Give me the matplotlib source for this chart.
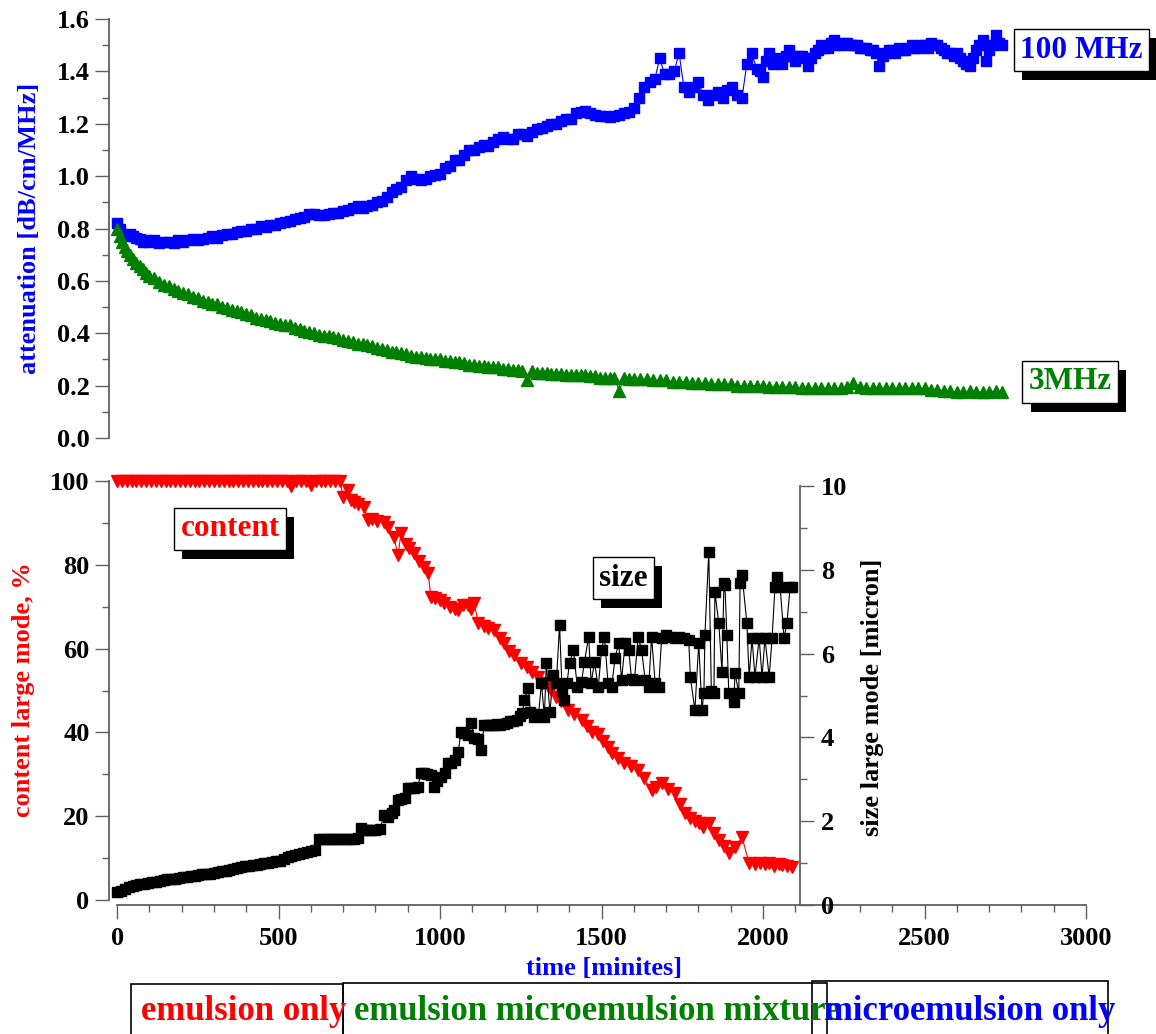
import numpy as np
import matplotlib.pyplot as plt
import matplotlib.patheffects as pe
from matplotlib.patches import Rectangle
from matplotlib.ticker import MultipleLocator, FormatStrFormatter

plt.rcParams['font.family'] = ['Liberation Serif', 'DejaVu Serif']
plt.rcParams['font.weight'] = 'bold'

# --- top panel: shared time grid of the first part of the run
t_top_a = [0, 8, 16, 24, 32, 40, 50, 60, 70, 80,
           90, 100, 115, 130, 145, 160, 175, 190, 205, 220,
           235, 250, 265, 280, 295, 310, 325, 340, 355, 370,
           385, 400, 415, 430, 445, 460, 475, 490, 505, 520,
           535, 550, 565, 580, 595, 610, 625, 640, 655, 670,
           685, 700, 715, 730, 745, 760, 775, 790, 805, 820,
           835, 850, 865, 880, 895, 910, 925, 940, 955, 970,
           985, 1000, 1015, 1030, 1045, 1060, 1075, 1090, 1105, 1120,
           1135, 1150, 1165, 1180, 1195, 1210, 1225, 1240, 1255, 1270,
           1285, 1300, 1315, 1330, 1345, 1360, 1375, 1390, 1405, 1420,
           1435, 1450, 1465, 1480, 1495, 1510, 1525, 1540, 1555, 1570,
           1585, 1600]

# attenuation at 100 MHz (blue squares)
att_100_a = [0.82, 0.80, 0.78, 0.77, 0.775, 0.78, 0.77, 0.765, 0.76, 0.75,
             0.755, 0.75, 0.755, 0.745, 0.75, 0.75, 0.745, 0.755, 0.75, 0.755,
             0.76, 0.755, 0.76, 0.765, 0.77, 0.765, 0.775, 0.78, 0.78, 0.785,
             0.79, 0.79, 0.80, 0.80, 0.81, 0.805, 0.815, 0.815, 0.82, 0.825,
             0.83, 0.835, 0.84, 0.845, 0.855, 0.855, 0.85, 0.85, 0.855, 0.86,
             0.86, 0.865, 0.87, 0.88, 0.885, 0.88, 0.885, 0.89, 0.90, 0.905,
             0.92, 0.94, 0.95, 0.96, 0.985, 1.0, 0.99, 0.985, 0.99, 1.0,
             1.005, 1.01, 1.03, 1.04, 1.06, 1.06, 1.08, 1.10, 1.10, 1.11,
             1.12, 1.115, 1.13, 1.14, 1.15, 1.14, 1.14, 1.16, 1.16, 1.155,
             1.17, 1.18, 1.185, 1.19, 1.20, 1.20, 1.21, 1.22, 1.22, 1.24,
             1.245, 1.25, 1.24, 1.235, 1.23, 1.23, 1.225, 1.23, 1.235, 1.24,
             1.245, 1.26]
t_100_b = [1615, 1630, 1650, 1665, 1680, 1695, 1710, 1725, 1740, 1755,
           1770, 1785, 1800, 1815, 1830, 1845, 1860, 1875, 1890, 1905,
           1920, 1935, 1950, 1965, 1980, 1990, 2000, 2010, 2020, 2030,
           2040, 2050, 2060, 2070, 2080, 2090, 2100, 2110, 2120, 2130,
           2140, 2150, 2160, 2170, 2180, 2190, 2200, 2210, 2220, 2230,
           2240, 2250, 2260, 2270, 2280, 2290, 2300, 2310, 2320, 2330,
           2340, 2350, 2360, 2370, 2380, 2390, 2400, 2410, 2420, 2430,
           2440, 2450, 2460, 2470, 2480, 2490, 2500, 2510, 2520, 2530,
           2540, 2550, 2560, 2570, 2580, 2590, 2600, 2610, 2620, 2630,
           2640, 2650, 2660, 2670, 2680, 2690, 2700, 2710, 2720, 2730,
           2740]
att_100_b = [1.30, 1.34, 1.36, 1.37, 1.45, 1.39, 1.39, 1.40, 1.47, 1.34,
             1.32, 1.34, 1.36, 1.31, 1.29, 1.31, 1.32, 1.30, 1.33, 1.34,
             1.31, 1.30, 1.43, 1.47, 1.41, 1.40, 1.38, 1.44, 1.47, 1.43,
             1.45, 1.44, 1.43, 1.46, 1.48, 1.46, 1.44, 1.46, 1.46, 1.45,
             1.42, 1.45, 1.47, 1.48, 1.50, 1.49, 1.49, 1.51, 1.52, 1.50,
             1.50, 1.51, 1.51, 1.50, 1.50, 1.50, 1.49, 1.49, 1.49, 1.48,
             1.48, 1.47, 1.42, 1.46, 1.47, 1.48, 1.48, 1.47, 1.49, 1.48,
             1.48, 1.49, 1.50, 1.49, 1.49, 1.50, 1.50, 1.49, 1.51, 1.50,
             1.50, 1.49, 1.48, 1.47, 1.47, 1.46, 1.47, 1.45, 1.44, 1.43,
             1.42, 1.45, 1.48, 1.50, 1.52, 1.44, 1.48, 1.50, 1.54, 1.51,
             1.50]

# attenuation at 3 MHz (green triangles)
att_3_a = [0.80, 0.77, 0.75, 0.73, 0.715, 0.70, 0.685, 0.67, 0.655, 0.645,
           0.63, 0.62, 0.61, 0.595, 0.585, 0.58, 0.57, 0.56, 0.555, 0.55,
           0.54, 0.535, 0.525, 0.52, 0.51, 0.51, 0.50, 0.495, 0.49, 0.485,
           0.48, 0.475, 0.47, 0.46, 0.455, 0.45, 0.445, 0.44, 0.435, 0.43,
           0.43, 0.42, 0.415, 0.41, 0.405, 0.40, 0.395, 0.39, 0.39, 0.385,
           0.38, 0.375, 0.37, 0.365, 0.36, 0.36, 0.355, 0.35, 0.345, 0.34,
           0.335, 0.33, 0.33, 0.325, 0.32, 0.315, 0.31, 0.31, 0.305, 0.30,
           0.30, 0.30, 0.295, 0.295, 0.29, 0.29, 0.285, 0.28, 0.28, 0.275,
           0.275, 0.27, 0.27, 0.27, 0.265, 0.265, 0.26, 0.26, 0.255, 0.22,
           0.255, 0.25, 0.25, 0.25, 0.245, 0.245, 0.245, 0.24, 0.24, 0.24,
           0.24, 0.24, 0.235, 0.235, 0.23, 0.23, 0.23, 0.23, 0.18, 0.23,
           0.225, 0.225]
t_3_b = [1620, 1640, 1660, 1680, 1700, 1720, 1740, 1760, 1780, 1800,
         1820, 1840, 1860, 1880, 1900, 1920, 1940, 1960, 1980, 2000,
         2020, 2040, 2060, 2080, 2100, 2120, 2140, 2160, 2180, 2200,
         2220, 2240, 2260, 2280, 2300, 2320, 2340, 2360, 2380, 2400,
         2420, 2440, 2460, 2480, 2500, 2520, 2540, 2560, 2580, 2600,
         2620, 2640, 2660, 2680, 2700, 2720, 2740]
att_3_b = [0.225, 0.225, 0.22, 0.22, 0.22, 0.215, 0.215, 0.215, 0.21, 0.21,
           0.21, 0.205, 0.205, 0.205, 0.205, 0.20, 0.20, 0.20, 0.20, 0.20,
           0.195, 0.195, 0.195, 0.195, 0.195, 0.19, 0.19, 0.19, 0.19, 0.19,
           0.19, 0.19, 0.195, 0.21, 0.195, 0.19, 0.19, 0.19, 0.19, 0.19,
           0.19, 0.19, 0.19, 0.19, 0.19, 0.185, 0.185, 0.18, 0.18, 0.175,
           0.175, 0.18, 0.175, 0.175, 0.175, 0.18, 0.175]

# --- bottom panel: content of large mode, % (red down-triangles)
t_content = [0, 15, 30, 45, 60, 75, 90, 105, 120, 135,
             150, 165, 180, 195, 210, 225, 240, 255, 270, 285,
             300, 315, 330, 345, 360, 375, 390, 405, 420, 435,
             450, 465, 480, 495, 510, 525, 540, 555, 570, 585,
             600, 615, 630, 645, 660, 675, 690,
             700, 714, 725, 733, 745, 764, 776, 790, 805, 826,
             840, 857, 870, 879, 895, 905, 919, 935, 950, 963,
             972, 985, 1000, 1012, 1030, 1045, 1056, 1070, 1085, 1095,
             1106, 1118, 1135, 1150, 1168, 1185, 1199, 1215, 1230, 1252,
             1270, 1285, 1304, 1320, 1335, 1345, 1360, 1375, 1397, 1415,
             1438, 1455, 1470, 1490, 1505, 1520, 1531, 1550, 1571, 1590,
             1614, 1630, 1655, 1670, 1686, 1705, 1727, 1742, 1758, 1775,
             1790, 1801, 1815, 1832, 1848, 1863, 1880, 1894, 1913, 1935,
             1957, 1975, 1990, 2005, 2019, 2035, 2050, 2059, 2075, 2090]
content = [100, 100, 100, 100, 100, 100, 100, 100, 100, 100,
           100, 100, 100, 100, 100, 100, 100, 100, 100, 100,
           100, 100, 100, 100, 100, 100, 100, 100, 100, 100,
           100, 100, 100, 100, 100, 100, 98.8, 100, 100, 100,
           99, 100, 100, 100, 100, 100, 100,
           96.2, 97.9, 95.5, 95, 94.5, 93.8, 90.7, 91, 90.5, 90.2,
           89, 86.6, 82.3, 87.6, 85, 84, 82.8, 81, 79.5, 78,
           72.3, 72, 71.5, 70.9, 70, 69.5, 69.2, 70.5, 70.5, 69.5,
           70.9, 66.1, 65.5, 65, 64.4, 62.5, 61.3, 59.5, 58.5, 56.6,
           55.5, 54.5, 53.2, 51.8, 51, 50.1, 48.5, 47.5, 45.3, 44.5,
           43, 41.5, 40.2, 39.5, 38, 36.5, 35, 34, 32.7, 32,
           31, 29, 26.3, 27, 27.9, 26.5, 25.5, 23, 20.8, 19.5,
           18.8, 18.4, 17.5, 18.4, 16, 14.3, 13, 11.2, 12.6, 15,
           8.8, 8.5, 8.8, 8.5, 8.8, 8.2, 8.6, 8.4, 8, 7.9]

# --- bottom panel: size of large mode, micron (black squares)
t_size = [0, 12, 24, 36, 48, 60, 72, 84, 96, 108,
          120, 132, 144, 156, 168, 180, 192, 204, 216, 228,
          240, 252, 264, 276, 288, 300, 312, 324, 336, 348,
          360, 372, 384, 396, 408, 420, 432, 444, 456, 468,
          480, 492, 504, 516, 528, 540, 552, 564, 576, 588,
          600, 612,
          625, 637, 649, 661, 673, 685, 697, 709, 721, 733,
          745, 755, 765, 775, 787, 800, 815, 826, 840, 850,
          857, 870, 880, 890, 900, 910, 920, 931, 941, 950,
          960, 972, 981, 990, 1003, 1015, 1025, 1035, 1045, 1056,
          1065, 1075, 1085, 1096, 1106, 1118, 1127, 1137, 1147, 1157,
          1167, 1177, 1187, 1197, 1207, 1217, 1227, 1237, 1247, 1255,
          1261, 1273, 1280, 1292, 1305, 1314, 1323, 1329, 1340, 1351,
          1360, 1370, 1378, 1385, 1393, 1401, 1413, 1425, 1438, 1447,
          1460, 1468, 1478, 1490, 1500, 1509, 1520, 1531, 1542, 1553,
          1562, 1573, 1584, 1593, 1602, 1613, 1624, 1635, 1646, 1655,
          1666, 1677, 1686, 1700, 1713, 1727, 1740, 1755, 1770, 1775,
          1789, 1801, 1811, 1817, 1820, 1832, 1840, 1848, 1851, 1863,
          1873, 1879, 1882, 1888, 1894, 1910, 1913, 1925, 1929, 1935,
          1950, 1957, 1966, 1975, 1988, 1997, 2006, 2019, 2028, 2037,
          2043, 2053, 2065, 2074, 2084, 2090]
size = [0.30, 0.34, 0.38, 0.42, 0.45, 0.47, 0.49, 0.51, 0.53, 0.55,
        0.56, 0.57, 0.59, 0.61, 0.62, 0.63, 0.65, 0.66, 0.67, 0.69,
        0.70, 0.71, 0.73, 0.74, 0.75, 0.77, 0.78, 0.80, 0.81, 0.83,
        0.85, 0.88, 0.90, 0.92, 0.94, 0.95, 0.96, 0.98, 1.00, 1.01,
        1.02, 1.04, 1.06, 1.10, 1.14, 1.17, 1.20, 1.22, 1.24, 1.26,
        1.30, 1.32,
        1.58, 1.58, 1.58, 1.58, 1.58, 1.58, 1.58, 1.58, 1.58, 1.58,
        1.60, 1.84, 1.80, 1.78, 1.80, 1.80, 1.82, 2.15, 2.10, 2.20,
        2.27, 2.50, 2.52, 2.55, 2.80, 2.80, 2.80, 2.82, 3.15, 3.15,
        3.12, 3.10, 2.82, 2.95, 3.06, 3.15, 3.39, 3.40, 3.45, 3.65,
        4.13, 4.10, 4.05, 4.34, 3.99, 3.95, 3.70, 4.30, 4.30, 4.30,
        4.30, 4.32, 4.30, 4.32, 4.35, 4.38, 4.40, 4.42, 4.50, 4.58,
        4.89, 5.18, 4.60, 4.49, 4.55, 5.30, 4.49, 5.78, 4.60, 5.49,
        5.30, 6.68, 5.10, 4.89, 5.30, 5.78, 6.09, 5.20, 5.32, 5.80,
        6.40, 5.30, 5.80, 5.20, 6.09, 6.40, 5.30, 5.20, 5.90, 6.25,
        5.37, 6.25, 6.09, 5.40, 5.37, 6.40, 6.09, 5.37, 5.20, 6.40,
        5.30, 5.20, 6.37, 6.45, 6.40, 6.37, 6.40, 6.38, 6.32, 5.44,
        4.65, 6.25, 4.65, 5.06, 6.44, 8.42, 5.10, 5.06, 7.47, 6.73,
        5.56, 7.68, 7.64, 6.44, 5.06, 4.84, 5.54, 5.06, 7.68, 7.88,
        6.73, 5.44, 6.37, 5.44, 6.37, 5.44, 6.37, 5.44, 6.37, 7.59,
        7.83, 7.59, 6.37, 6.73, 7.59, 7.59]

t_100 = t_top_a + t_100_b
att_100 = att_100_a + att_100_b
t_3 = t_top_a + t_3_b
att_3 = att_3_a + att_3_b

W, H = 1156, 1034
BLUE, GREEN, RED = '#0000ff', '#008000', '#ff0000'
GRAY = '#606060'

fig = plt.figure(figsize=(W / 100, H / 100), dpi=100)


def fx(px):
    return px / W


def fy(py):
    return 1 - py / H


def rect(x0, y0, x1, y1):
    return [fx(x0), fy(y1), (x1 - x0) / W, (y1 - y0) / H]


ax1 = fig.add_axes(rect(109, 19, 1086, 438))
ax2 = fig.add_axes(rect(109, 481, 1086, 900))
ax3 = fig.add_axes(rect(109, 486, 1086, 905), sharex=ax2)
ax3.patch.set_visible(False)

for ax in (ax1, ax2, ax3):
    for s in ax.spines.values():
        s.set_visible(False)
        s.set_color(GRAY)
        s.set_linewidth(1.3)
    ax.set_xlim(-25, 3000)
    ax.tick_params(which='both', direction='out', color=GRAY, width=1, labelsize=19)
    ax.tick_params(which='major', length=10)
    ax.tick_params(which='minor', length=5)

# top panel
ax1.spines['left'].set_visible(True)
ax1.set_ylim(0, 1.6)
ax1.yaxis.set_major_locator(MultipleLocator(0.2))
ax1.yaxis.set_minor_locator(MultipleLocator(0.1))
ax1.yaxis.set_major_formatter(FormatStrFormatter('%.1f'))
ax1.tick_params(axis='y', pad=4)
ax1.tick_params(axis='x', which='both', bottom=False, labelbottom=False)
ax1.plot(t_100, att_100, color=BLUE, marker='s', ms=7.5, lw=0.8, clip_on=False)
ax1.plot(t_3, att_3, color=GREEN, marker='^', ms=8.5, lw=0.8, clip_on=False)

# bottom panel, left axis
ax2.spines['left'].set_visible(True)
ax2.spines['bottom'].set_visible(True)
ax2.spines['bottom'].set_position(('outward', 3.6))
ax2.spines['bottom'].set_bounds(0, 3000)
ax2.set_ylim(0, 100)
ax2.yaxis.set_major_locator(MultipleLocator(20))
ax2.yaxis.set_minor_locator(MultipleLocator(10))
ax2.xaxis.set_major_locator(MultipleLocator(500))
ax2.xaxis.set_minor_locator(MultipleLocator(100))
ax2.tick_params(axis='y', pad=4)
ax2.tick_params(axis='x', pad=6)
ax2.plot(t_content, content, color=RED, marker='v', ms=8.5, lw=0.8, clip_on=False)

# bottom panel, right axis
ax3.spines['right'].set_visible(True)
ax3.spines['right'].set_position(('data', 2115))
ax3.set_ylim(0, 10)
ax3.yaxis.set_major_locator(MultipleLocator(2))
ax3.yaxis.set_minor_locator(MultipleLocator(1))
ax3.yaxis.tick_right()
ax3.tick_params(axis='y', which='both', left=False, labelleft=False, right=True, labelright=True, pad=5)
ax3.tick_params(axis='x', which='both', bottom=False, labelbottom=False)
ax3.plot(t_size, size, color='black', marker='s', ms=6.5, lw=0.8, clip_on=False)

# axis titles
fig.text(fx(30), fy(228), 'attenuation [dB/cm/MHz]', rotation=90, color=BLUE,
         fontsize=19, fontweight='bold', ha='center', va='center')
fig.text(fx(24), fy(690), 'content large mode, %', rotation=90, color=RED,
         fontsize=19, fontweight='bold', ha='center', va='center')
fig.text(fx(872), fy(697), 'size large mode [micron]', rotation=90, color='black',
         fontsize=19, fontweight='bold', ha='center', va='center')
fig.text(fx(604), fy(968), 'time [minites]', color=BLUE, fontsize=19,
         fontweight='bold', ha='center', va='center')


# boxed tags with a drop shadow
def tag(x, y, s, color):
    t = fig.text(fx(x), fy(y), s, color=color, fontsize=22.5, fontweight='bold',
                 ha='center', va='center',
                 bbox=dict(boxstyle='square,pad=0.2', fc='white', ec='black', lw=1))
    t.get_bbox_patch().set_path_effects(
        [pe.SimplePatchShadow(offset=(6, -6.5), shadow_rgbFace='black', alpha=1), pe.Normal()])


tag(1081, 50, '100 MHz', BLUE)
tag(1070, 382, '3MHz', GREEN)
tag(230, 529, 'content', RED)
tag(623, 578, 'size', 'black')

# region labels under the time axis
regions = [(131, 343, 984, 141, 'emulsion only', RED),
           (343, 827, 983, 354, 'emulsion microemulsion mixture', GREEN),
           (812, 1108, 981, 824, 'microemulsion only', BLUE)]
for x0, x1, top, xt, s, c in regions:
    fig.add_artist(Rectangle((fx(x0), fy(1050)), (x1 - x0) / W, (1050 - top) / H,
                             transform=fig.transFigure, fill=False, ec='black', lw=1.2))
for x0, x1, top, xt, s, c in regions:
    fig.text(fx(xt), fy(1012), s, color=c, fontsize=25, fontweight='bold',
             ha='left', va='center')

fig.savefig('out.png', dpi=100)
